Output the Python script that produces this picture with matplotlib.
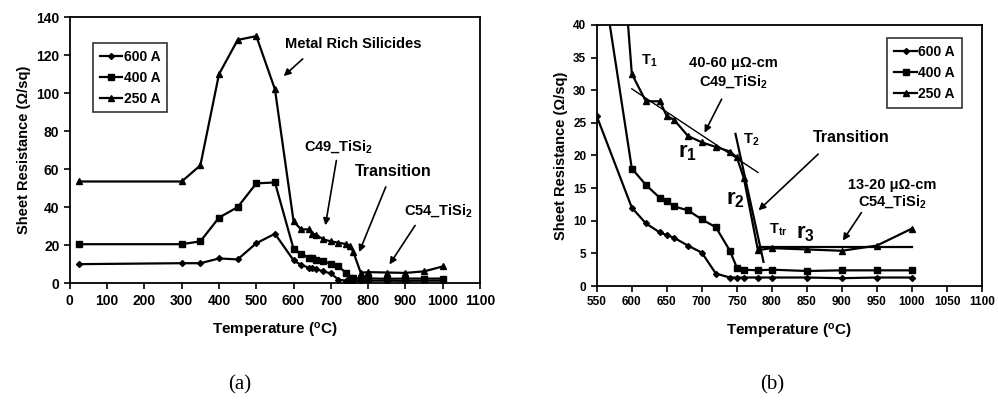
import matplotlib
matplotlib.use("Agg")
import matplotlib.pyplot as plt

plt.rcParams['font.family'] = ['Liberation Sans', 'DejaVu Sans']
plt.rcParams['font.weight'] = 'bold'
plt.rcParams['mathtext.fontset'] = 'custom'
plt.rcParams['mathtext.rm'] = 'Liberation Sans:bold'
plt.rcParams['mathtext.bf'] = 'Liberation Sans:bold'
plt.rcParams['mathtext.it'] = 'Liberation Sans:bold'
plt.rcParams['mathtext.default'] = 'bf'

# panel (a): full temperature range
temp_a = [25, 300, 350, 400, 450, 500, 550, 600, 620, 640, 650, 660, 680, 700, 720,
          740, 750, 760, 780, 800, 850, 900, 950, 1000]
r600_a = [10, 10.5, 10.5, 13, 12.5, 21, 26, 12, 9.6, 8.2, 7.8, 7.4, 6.2, 5.1, 1.9,
          1.3, 1.3, 1.3, 1.3, 1.3, 1.3, 1.2, 1.3, 1.3]
r400_a = [20.5, 20.5, 22, 34.5, 40, 52.5, 53, 18, 15.5, 13.5, 13, 12.2, 11.6, 10.2, 9,
          5.4, 2.8, 2.5, 2.4, 2.5, 2.3, 2.4, 2.4, 2.4]
r250_a = [53.5, 53.5, 62, 110, 128, 130, 102, 32.5, 28.3, 28.3, 26, 25.5, 23, 22, 21.3,
          20.6, 19.7, 16.5, 5.5, 5.8, 5.6, 5.4, 6.2, 8.8]

# panel (b): zoom 550-1000
temp_b = [550, 600, 620, 640, 650, 660, 680, 700, 720, 740, 750, 760, 780, 800, 850, 900, 950, 1000]
r600_b = [26, 12, 9.6, 8.2, 7.8, 7.4, 6.2, 5.1, 1.9, 1.3, 1.3, 1.3, 1.3, 1.3, 1.3, 1.2, 1.3, 1.3]
r400_b = [53, 18, 15.5, 13.5, 13, 12.2, 11.6, 10.2, 9, 5.4, 2.8, 2.5, 2.4, 2.5, 2.3, 2.4, 2.4, 2.4]
r250_b = [102, 32.5, 28.3, 28.3, 26, 25.5, 23, 22, 21.3, 20.6, 19.7, 16.5, 5.5, 5.8, 5.6, 5.4, 6.2, 8.8]

# fit lines drawn on panel (b)
fit1_x, fit1_y = [600, 780], [30.2, 17.4]
fit2_x, fit2_y = [748, 788], [23.3, 3.7]
fit3_x, fit3_y = [780, 1000], [5.9, 5.9]

labels = ["600 A", "400 A", "250 A"]
markers = ["D", "s", "^"]
msizes = [3, 4.5, 5]

fig = plt.figure(figsize=(9.98, 4.08), dpi=100)
axa = fig.add_axes([0.070, 0.306, 0.411, 0.652])
axb = fig.add_axes([0.598, 0.299, 0.386, 0.640])

for ys, lab, m, ms in zip([r600_a, r400_a, r250_a], labels, markers, msizes):
    axa.plot(temp_a, ys, color="black", lw=1.6, marker=m, ms=ms, label=lab)
for ys, lab, m, ms in zip([r600_b, r400_b, r250_b], labels, markers, msizes):
    axb.plot(temp_b, ys, color="black", lw=1.6, marker=m, ms=ms, label=lab)
axb.plot(fit1_x, fit1_y, color="black", lw=1.0)
axb.plot(fit2_x, fit2_y, color="black", lw=1.6)
axb.plot(fit3_x, fit3_y, color="black", lw=1.6)

axa.set_xlim(0, 1100)
axa.set_ylim(0, 140)
axa.set_xticks(range(0, 1101, 100))
axa.set_yticks(range(0, 141, 20))
axb.set_xlim(550, 1100)
axb.set_ylim(0, 40)
axb.set_xticks(range(550, 1101, 50))
axb.set_yticks(range(0, 41, 5))

for ax in (axa, axb):
    for s in ax.spines.values():
        s.set_linewidth(1.3)
    ax.tick_params(direction="out", length=4, width=1.2, labelsize=10)
    for t in ax.get_xticklabels() + ax.get_yticklabels():
        t.set_fontweight("bold")
    ax.set_xlabel("Temperature ($^o$C)", fontsize=11, fontweight="bold", labelpad=10)
    ax.set_ylabel("Sheet Resistance (Ω/sq)", fontsize=10.5, fontweight="bold")
    leg = ax.legend(handlelength=1.6, handletextpad=0.1, fontsize=10, frameon=True,
                    fancybox=False, borderpad=0.5, labelspacing=0.5)
    leg.get_frame().set_edgecolor("black")
    leg.get_frame().set_linewidth(1.2)
    for t in leg.get_texts():
        t.set_fontweight("bold")

# smaller tick labels on panel (b) so 1100 fits
axb.tick_params(labelsize=8.5)

axa.get_legend().set_bbox_to_anchor((0.04, 0.93))
axa.get_legend()._loc = 2
axb.get_legend().set_bbox_to_anchor((0.965, 0.975))
axb.get_legend()._loc = 1

arrow = dict(arrowstyle="-|>", color="black", lw=1.2, mutation_scale=10)
fs = 10.5
# panel (a) annotations
axa.annotate("", xy=(568, 108), xytext=(630, 119), arrowprops=arrow)
axa.text(759, 126, "Metal Rich Silicides", fontsize=fs, ha="center", va="center", fontweight="bold")
axa.annotate("", xy=(684, 29), xytext=(716, 66), arrowprops=arrow)
axa.text(720, 72, "C49_TiSi$_2$", fontsize=fs, ha="center", va="center", fontweight="bold")
axa.annotate("", xy=(773, 15), xytext=(850, 52), arrowprops=arrow)
axa.text(867, 58.5, "Transition", fontsize=11.5, ha="center", va="center", fontweight="bold")
axa.annotate("", xy=(853, 8.6), xytext=(930, 31.6), arrowprops=arrow)
axa.text(988, 38.4, "C54_TiSi$_2$", fontsize=fs, ha="center", va="center", fontweight="bold")

# panel (b) annotations
axb.text(625, 34.5, "T$_1$", fontsize=fs, ha="center", va="center", fontweight="bold")
axb.text(745, 34.2, "40-60 μΩ-cm", fontsize=fs, ha="center", va="center", fontweight="bold")
axb.text(745, 31.3, "C49_TiSi$_2$", fontsize=fs, ha="center", va="center", fontweight="bold")
axb.annotate("", xy=(702, 23.1), xytext=(730, 29), arrowprops=arrow)
axb.text(679, 20.4, "r$_1$", fontsize=16, ha="center", va="center", fontweight="bold")
axb.text(771, 22.4, "T$_2$", fontsize=fs, ha="center", va="center", fontweight="bold")
axb.text(913, 22.7, "Transition", fontsize=11.5, ha="center", va="center", fontweight="bold")
axb.annotate("", xy=(778, 11.3), xytext=(869, 20.5), arrowprops=arrow)
axb.text(748, 13.2, "r$_2$", fontsize=16, ha="center", va="center", fontweight="bold")
axb.text(809, 8.6, "T$_{tr}$", fontsize=fs, ha="center", va="center", fontweight="bold")
axb.text(848, 8.1, "r$_3$", fontsize=16, ha="center", va="center", fontweight="bold")
axb.text(972, 15.5, "13-20 μΩ-cm", fontsize=fs, ha="center", va="center", fontweight="bold")
axb.text(972, 12.9, "C54_TiSi$_2$", fontsize=fs, ha="center", va="center", fontweight="bold")
axb.annotate("", xy=(899, 6.6), xytext=(930, 11.6), arrowprops=arrow)

fig.text(240 / 998, 1 - 385 / 408, "(a)", fontsize=15, family="Liberation Serif",
         fontweight="normal", ha="center", va="center")
fig.text(772 / 998, 1 - 385 / 408, "(b)", fontsize=15, family="Liberation Serif",
         fontweight="normal", ha="center", va="center")

fig.savefig("out.png", dpi=100)
